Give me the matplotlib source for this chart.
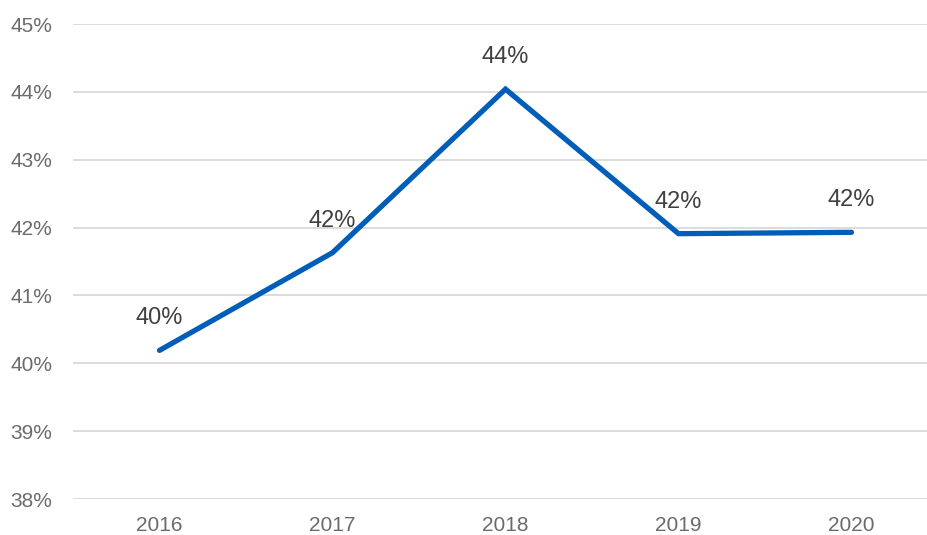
import matplotlib
matplotlib.use("Agg")
import matplotlib.pyplot as plt
from matplotlib.ticker import FuncFormatter

plt.rcParams['font.family'] = ['Liberation Sans', 'DejaVu Sans']

years = ["2016", "2017", "2018", "2019", "2020"]
share = [40.19, 41.63, 44.04, 41.91, 41.93]
labels = ["40%", "42%", "44%", "42%", "42%"]

W, H = 928, 535
fig = plt.figure(figsize=(W / 100, H / 100), dpi=100)
left, right = 73, 938
top, bottom = 24, 499
ax = fig.add_axes([left / W, (H - bottom) / H, (right - left) / W, (bottom - top) / H])

x = list(range(len(years)))
ax.set_xlim(-0.5, len(years) - 0.5)
ax.set_ylim(38, 45)
ax.set_yticks(range(38, 46))
ax.yaxis.set_major_formatter(FuncFormatter(lambda v, _: f"{v:.0f}%"))
ax.set_xticks(x)
ax.set_xticklabels(years)

ax.grid(axis="y", color="#d9d9d9", linewidth=1.3)
ax.set_axisbelow(True)
for s in ax.spines.values():
    s.set_visible(False)
ax.tick_params(axis="both", length=0, colors="#6b6b6b", labelsize=15)
ax.tick_params(axis="y", pad=15)
ax.tick_params(axis="x", pad=12)

ax.plot(x, share, color="#005EB8", linewidth=3.8, solid_capstyle="round",
        solid_joinstyle="miter", clip_on=False, zorder=3)

for xi, yi, lab in zip(x, share, labels):
    ax.annotate(lab, (xi, yi), xytext=(0, 23), textcoords="offset points",
                ha="center", va="center", fontsize=17, color="#404040", zorder=4)

fig.savefig("out.png", dpi=100)
